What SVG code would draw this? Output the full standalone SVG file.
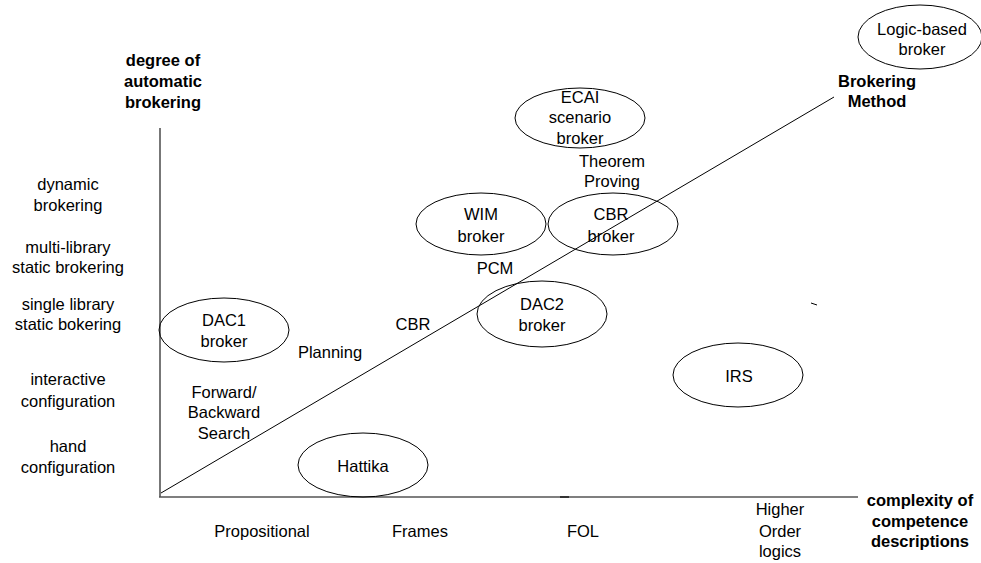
<svg xmlns="http://www.w3.org/2000/svg" width="981" height="563" viewBox="0 0 981 563">
<style>
text{font-family:"Liberation Sans",Arial,sans-serif;font-size:16.5px;fill:#000;text-anchor:middle}
.b{font-weight:bold}
ellipse{fill:none;stroke:#000;stroke-width:1}
.axis{stroke:#555;stroke-width:1.6;fill:none}
.line{stroke:#000;stroke-width:1;fill:none}
</style>
<rect width="981" height="563" fill="#fff"/>
<g id="connectors">
<line class="axis" x1="160" y1="128" x2="160" y2="497"/>
<line class="axis" x1="159" y1="497" x2="858" y2="497"/>
<line class="line" x1="161" y1="493" x2="834" y2="97"/>
<line stroke="#333" stroke-width="2" x1="560" y1="497" x2="569" y2="497"/>
<line class="line" x1="811" y1="303" x2="817" y2="305"/>
</g>
<g id="axis-y-label">
<text class="b" x="163" y="66">degree of</text>
<text class="b" x="163" y="87">automatic</text>
<text class="b" x="163" y="108">brokering</text>
</g>
<g id="axis-x-label">
<text class="b" x="920" y="506">complexity of</text>
<text class="b" x="920" y="527">competence</text>
<text class="b" x="920" y="547">descriptions</text>
</g>
<g id="method-label">
<text class="b" x="877" y="87">Brokering</text>
<text class="b" x="877" y="107">Method</text>
</g>
<g id="y-levels">
<text x="68" y="190">dynamic</text>
<text x="68" y="211">brokering</text>
<text x="68" y="253">multi-library</text>
<text x="68" y="273">static brokering</text>
<text x="68" y="310">single library</text>
<text x="68" y="330">static bokering</text>
<text x="68" y="385">interactive</text>
<text x="68" y="407">configuration</text>
<text x="68" y="452">hand</text>
<text x="68" y="473">configuration</text>
</g>
<g id="x-levels">
<text x="262" y="537">Propositional</text>
<text x="420" y="537">Frames</text>
<text x="583" y="537">FOL</text>
<text x="780" y="515">Higher</text>
<text x="780" y="537">Order</text>
<text x="780" y="557">logics</text>
</g>
<g id="methods">
<text x="224" y="398">Forward/</text>
<text x="224" y="418">Backward</text>
<text x="224" y="439">Search</text>
<text x="330" y="358">Planning</text>
<text x="413" y="330">CBR</text>
<text x="495" y="274">PCM</text>
<text x="612" y="167">Theorem</text>
<text x="612" y="187">Proving</text>
</g>
<g id="dac1">
<ellipse cx="224" cy="330" rx="65" ry="32"/>
<text x="224" y="326">DAC1</text>
<text x="224" y="347">broker</text>
</g>
<g id="hattika">
<ellipse cx="363" cy="465" rx="65" ry="32"/>
<text x="363" y="472">Hattika</text>
</g>
<g id="ecai">
<ellipse cx="580" cy="118" rx="65" ry="30"/>
<text x="580" y="103">ECAI</text>
<text x="580" y="123">scenario</text>
<text x="580" y="144">broker</text>
</g>
<g id="wim">
<ellipse cx="481" cy="224" rx="65" ry="31"/>
<text x="481" y="220">WIM</text>
<text x="481" y="242">broker</text>
</g>
<g id="cbr-broker">
<ellipse cx="613" cy="224" rx="65" ry="31"/>
<text x="611" y="220">CBR</text>
<text x="611" y="242">broker</text>
</g>
<g id="dac2">
<ellipse cx="542" cy="314" rx="65" ry="33"/>
<text x="542" y="310">DAC2</text>
<text x="542" y="331">broker</text>
</g>
<g id="irs">
<ellipse cx="738" cy="375" rx="65" ry="32"/>
<text x="739" y="382">IRS</text>
</g>
<g id="logic-based">
<ellipse cx="920" cy="37" rx="62" ry="32"/>
<text x="922" y="35">Logic-based</text>
<text x="922" y="55">broker</text>
</g>
</svg>
